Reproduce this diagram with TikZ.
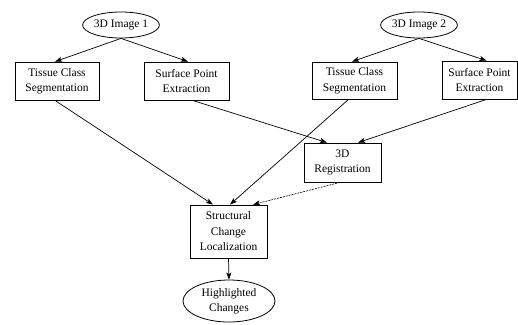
\documentclass[tikz,border=0pt]{standalone}
\usepackage{fontspec}
\setmainfont{Liberation Serif}
\usetikzlibrary{shapes.geometric,arrows.meta,calc}
\tikzset{
  boxnode/.style={draw, line width=0.8pt, rectangle, inner sep=0pt, align=center,
    font=\fontsize{11.5}{15.5}\selectfont},
  ellnode/.style={draw, line width=0.8pt, ellipse, inner sep=0pt, align=center,
    font=\fontsize{11.5}{15.5}\selectfont},
  arr/.style={line width=0.7pt, -{Stealth[length=7pt,width=5pt,inset=1.5pt]}},
  thinarr/.style={line width=0.6pt, dash pattern=on 2pt off 1pt, -{Stealth[length=7pt,width=5pt,inset=1.5pt]}}
}
\begin{document}
\begin{tikzpicture}[x=1pt,y=-1pt]
\useasboundingbox (0,0) rectangle (518,324);
\node[ellnode, minimum width=76pt, minimum height=26pt] (e1) at (121,25) {3D Image 1};
\node[ellnode, minimum width=76pt, minimum height=26pt] (e2) at (419,25) {3D Image 2};
\node[boxnode, minimum width=84pt, minimum height=38pt] (tcs1) at (57,81) {Tissue Class\\Segmentation};
\node[boxnode, minimum width=85pt, minimum height=38pt] (spe1) at (186.5,81) {Surface Point\\Extraction};
\node[boxnode, minimum width=85pt, minimum height=37pt] (tcs2) at (354.5,80.5) {Tissue Class\\Segmentation};
\node[boxnode, minimum width=75pt, minimum height=38pt] (spe2) at (479.5,80) {Surface Point\\Extraction};
\node[boxnode, minimum width=77pt, minimum height=39pt] (reg) at (342.5,162.5) {3D\\Registration};
\node[boxnode, minimum width=77pt, minimum height=53pt] (scl) at (228.5,231.5) {Structural\\Change\\Localization};
\node[ellnode, minimum width=92pt, minimum height=42pt] (hc) at (229,301) {Highlighted\\Changes};

\draw[arr] (e1.south) -- ($(tcs1.north)+(-2,0)$);
\draw[arr] (e1.south) -- ($(spe1.north)+(1.5,0)$);
\draw[arr] (e2.south) -- ($(tcs2.north)+(-2.5,0)$);
\draw[arr] (e2.south) -- ($(spe2.north)+(7,0)$);
\draw[arr] ($(tcs1.south)+(-2,0)$) -- ($(scl.north)+(-15.5,0)$);
\draw[arr] ($(spe1.south)+(6,0)$) -- ($(reg.north)+(-15.5,0)$);
\draw[arr] ($(tcs2.south)+(-6,0)$) -- ($(scl.north)+(1.5,0)$);
\draw[arr] ($(spe2.south)+(7,0)$) -- ($(reg.north)+(15.5,0)$);
\draw[thinarr] ($(reg.south)+(-2.5,0)$) -- ($(scl.north)+(24.5,0)$);
\draw[arr] (scl.south) -- (hc.north);
\end{tikzpicture}
\end{document}
